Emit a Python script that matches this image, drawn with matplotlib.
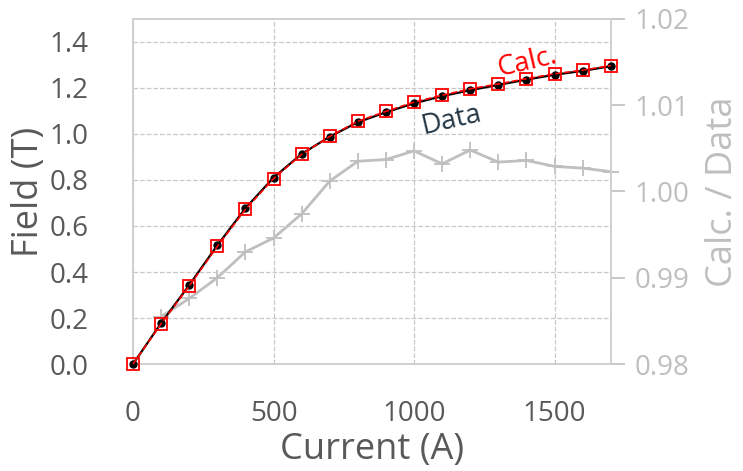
import matplotlib.pyplot as plt
import numpy as np

plt.rcParams['font.family'] = ['Open Sans', 'DejaVu Sans']

# Field vs. excitation current, measured and calculated, plus their ratio
current = [0, 100, 200, 300, 400, 500, 600, 700, 800, 900,
           1000, 1100, 1200, 1300, 1400, 1500, 1600, 1700]
field_data = [0.000, 0.178, 0.343, 0.516, 0.677, 0.810, 0.913, 0.988, 1.051,
              1.094, 1.133, 1.164, 1.190, 1.213, 1.236, 1.257, 1.274, 1.294]
field_calc = [0.000, 0.175, 0.339, 0.511, 0.672, 0.806, 0.911, 0.989, 1.055,
              1.098, 1.138, 1.168, 1.196, 1.217, 1.240, 1.261, 1.277, 1.297]
ratio_current = [100, 200, 300, 400, 500, 600, 700, 800, 900,
                 1000, 1100, 1200, 1300, 1400, 1500, 1600, 1700]
ratio = [0.9855, 0.9876, 0.9900, 0.9930, 0.9946, 0.9974, 1.0012, 1.0035, 1.0037,
         1.0047, 1.0032, 1.0048, 1.0034, 1.0036, 1.0029, 1.0027, 1.0023]

dark = '#595959'
light = '#BFBFBF'
spine_col = '#D0D0D0'

fig = plt.figure(figsize=(7.43, 4.71), dpi=100)
ax = fig.add_axes([0.179, 0.227, 0.643, 0.733])
ax2 = ax.twinx()

# ratio on the right axis, drawn behind the field curves
ax2.plot(ratio_current, ratio, color=light, lw=2, marker='+', ms=12, mew=1.3,
         clip_on=False)
ax2.set_ylim(0.98, 1.02)
ax2.set_yticks([0.98, 0.99, 1.00, 1.01, 1.02])
ax2.set_yticklabels(['0.98', '0.99', '1.00', '1.01', '1.02'])
ax2.tick_params(axis='y', colors=light, labelcolor=light, labelsize=20,
                length=10, width=1.2, pad=7)
ax2.set_ylabel('Calc. / Data', color=light, fontsize=26, labelpad=11)

ax.set_zorder(ax2.get_zorder() + 1)
ax.patch.set_visible(False)

ax.plot(current, field_data, color='black', lw=1.6, marker='o', ms=5,
        zorder=3, clip_on=False)
ax.plot(current, field_calc, color='red', lw=1.2, ls='--', marker='s', ms=8.5,
        mfc='none', mec='red', mew=1.3, zorder=4, clip_on=False)

ax.set_xlim(0, 1700)
ax.set_ylim(0, 1.5)
ax.set_xticks([0, 500, 1000, 1500])
ax.set_yticks(np.arange(0, 1.41, 0.2))
ax.set_yticklabels(['0.0', '0.2', '0.4', '0.6', '0.8', '1.0', '1.2', '1.4'])
ax.tick_params(axis='x', length=0, labelsize=20, labelcolor=dark, pad=26)
ax.tick_params(axis='y', length=0, labelsize=20, labelcolor=dark, pad=32)
ax.grid(True, color='#C8C8C8', ls='--', lw=0.9)
ax.set_axisbelow(True)
ax.set_xlabel('Current (A)', color=dark, fontsize=26, labelpad=3)
ax.set_ylabel('Field (T)', color=dark, fontsize=26, labelpad=2)

for a in (ax, ax2):
    for s in a.spines.values():
        s.set_color(spine_col)
        s.set_linewidth(1.3)

ax.text(1401, 1.313, 'Calc.', color='red', fontsize=20, rotation=13,
        ha='center', va='center')
ax.text(1134, 1.061, 'Data', color='#243746', fontsize=20, rotation=13,
        ha='center', va='center')

fig.savefig('out.png', dpi=100)
